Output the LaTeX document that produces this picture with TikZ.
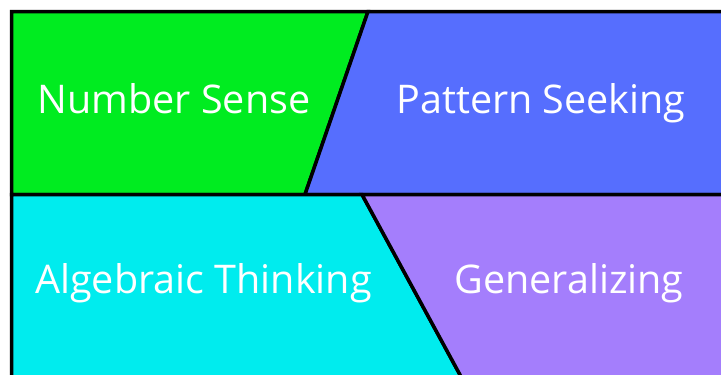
\documentclass[tikz,border=0pt]{standalone}
\usepackage{fontspec}
\setmainfont{Open Sans}
\definecolor{fieldgreen}{RGB}{0,236,32}
\definecolor{fieldblue}{RGB}{86,110,254}
\definecolor{fieldcyan}{RGB}{0,236,238}
\definecolor{fieldpurple}{RGB}{164,126,252}
\tikzset{
	field/.style={draw=black, line width=3.5pt, line join=miter},
	fieldlabel/.style={text=white, anchor=base, font=\fontsize{39.5}{47}\selectfont, inner sep=0pt}
}
\begin{document}
\begin{tikzpicture}[x=1pt, y=-1pt]
	\useasboundingbox (0,0) rectangle (721,375);
	\clip (0,0) rectangle (721,375);
	%fields
	\draw[field, fill=fieldgreen] (11.5,11.5) -- (368,11.5) -- (305,194.5) -- (11.5,194.5) -- cycle;
	\draw[field, fill=fieldblue] (368,11.5) -- (740,11.5) -- (740,194.5) -- (305,194.5) -- cycle;
	\draw[field, fill=fieldcyan] (11.5,194.5) -- (362,194.5) -- (471,395) -- (11.5,395) -- cycle;
	\draw[field, fill=fieldpurple] (362,194.5) -- (740,194.5) -- (740,395) -- (471,395) -- cycle;
	%labels
	\node[fieldlabel] (number) at (174,113) {Number Sense};
	\node[fieldlabel] (pattern) at (541,113) {Pattern Seeking};
	\node[fieldlabel] (algebra) at (203.5,293) {Algebraic Thinking};
	\node[fieldlabel] (general) at (569,293) {Generalizing};
\end{tikzpicture}
\end{document}
